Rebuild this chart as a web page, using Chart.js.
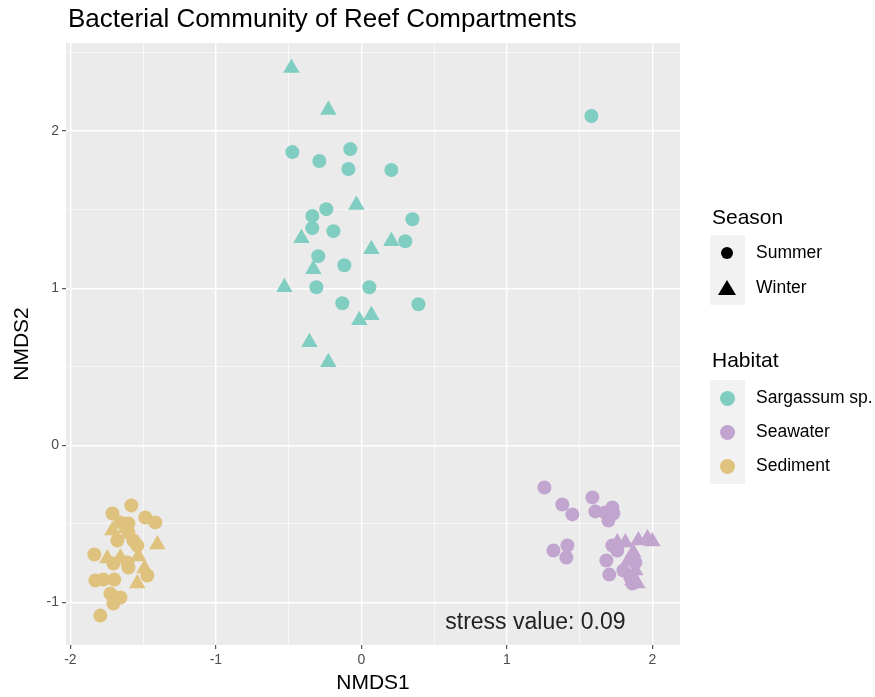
<!DOCTYPE html>
<html>
<head>
<meta charset="utf-8">
<script src="https://cdn.jsdelivr.net/npm/chart.js@4"></script>
<style>
  body { margin: 0; background: #fff; }
  #wrap { position: relative; width: 875px; height: 697px; font-family: "Liberation Sans", Arial, sans-serif; }
  #chart { position: absolute; left: 0; top: 0; }
  .txt { position: absolute; white-space: nowrap; line-height: 1; }
  .title { left: 68px; top: 5px; font-size: 26px; color: #000; }
  .legTitle { font-size: 21px; color: #000; }
  .legLabel { font-size: 17.5px; color: #000; }
  .keybox { position: absolute; background: #F2F2F2; }
  .dot { position: absolute; border-radius: 50%; }
</style>
</head>
<body>
<div id="wrap">
  <canvas id="chart" width="875" height="697"></canvas>
  <div class="txt title">Bacterial Community of Reef Compartments</div>

  <div class="txt legTitle" style="left:712px; top:206px;">Season</div>
  <div class="keybox" style="left:710px; top:235px; width:35px; height:70px;"></div>
  <div class="dot" style="left:721px; top:247px; width:12px; height:12px; background:#000;"></div>
  <svg style="position:absolute; left:717px; top:279px;" width="20" height="18"><polygon points="10,1 19,16 1,16" fill="#000"/></svg>
  <div class="txt legLabel" style="left:756px; top:244px;">Summer</div>
  <div class="txt legLabel" style="left:756px; top:279px;">Winter</div>

  <div class="txt legTitle" style="left:712px; top:349px;">Habitat</div>
  <div class="keybox" style="left:710px; top:380px; width:35px; height:104px;"></div>
  <div id="habitatKeys"></div>
</div>
<script>
// Data ==========================
const habitats = ["Sargassum sp.", "Seawater", "Sediment"];
const seasons = ["Summer", "Winter"];
const habitatColors = ["#80CDC1", "#C2A5CF", "#DFC27D"];

const sargSummerX = [-0.474, -0.289, -0.076, -0.089, 0.206, -0.241, -0.337, 0.351, -0.337, -0.192, 0.302, -0.296, -0.117, -0.309, 0.055, -0.131, 0.392, 1.581];
const sargSummerY = [1.866, 1.809, 1.885, 1.758, 1.752, 1.503, 1.459, 1.439, 1.382, 1.363, 1.299, 1.204, 1.146, 1.006, 1.006, 0.904, 0.898, 2.096];
const sargWinterX = [-0.481, -0.227, -0.034, -0.412, 0.206, 0.069, -0.330, -0.529, -0.014, 0.069, -0.357, -0.227];
const sargWinterY = [2.401, 2.134, 1.529, 1.318, 1.299, 1.248, 1.121, 1.006, 0.796, 0.828, 0.656, 0.529];

const seaSummerX = [1.258, 1.381, 1.450, 1.588, 1.608, 1.677, 1.725, 1.732, 1.698, 1.320, 1.416, 1.409, 1.684, 1.704, 1.801, 1.849, 1.759, 1.883, 1.863, 1.725];
const seaSummerY = [-0.268, -0.376, -0.439, -0.331, -0.420, -0.427, -0.395, -0.433, -0.478, -0.669, -0.637, -0.713, -0.732, -0.822, -0.796, -0.841, -0.669, -0.745, -0.879, -0.637];
const seaWinterX = [1.759, 1.814, 1.904, 1.966, 2.000, 1.869, 1.883, 1.863, 1.897, 1.835];
const seaWinterY = [-0.618, -0.618, -0.605, -0.592, -0.611, -0.682, -0.796, -0.860, -0.879, -0.732];

const sedSummerX = [-1.581, -1.711, -1.485, -1.416, -1.656, -1.601, -1.601, -1.677, -1.567, -1.540, -1.835, -1.608, -1.704, -1.601, -1.471, -1.828, -1.773, -1.698, -1.725, -1.656, -1.704, -1.794];
const sedSummerY = [-0.382, -0.433, -0.459, -0.490, -0.490, -0.497, -0.554, -0.605, -0.605, -0.637, -0.694, -0.745, -0.752, -0.777, -0.828, -0.860, -0.854, -0.854, -0.943, -0.968, -1.006, -1.083];
const sedWinterX = [-1.711, -1.622, -1.402, -1.746, -1.656, -1.533, -1.491, -1.540];
const sedWinterY = [-0.541, -0.529, -0.631, -0.720, -0.713, -0.707, -0.783, -0.879];

const xTicks = [-2, -1, 0, 1, 2];
const yTicks = [-1, 0, 1, 2];
const stressLabel = "stress value: 0.09";
const stressPos = { x: 1.196, y: -1.127 };

// Helpers ==========================
function toPoints(xs, ys) {
    return xs.map((x, i) => ({ x: x, y: ys[i] }));
}

function makeSet(label, xs, ys, color, season) {
    const tri = season === "Winter";
    return {
        label: label,
        data: toPoints(xs, ys),
        pointStyle: tri ? "triangle" : "circle",
        pointRadius: tri ? 9.5 : 7,
        backgroundColor: color,
        borderColor: color,
        borderWidth: 0
    };
}

function isMajor(v) {
    return Math.abs(v - Math.round(v)) < 1e-6;
}

// Legend keys for habitat
const keyWrap = document.getElementById("habitatKeys");
habitats.forEach((h, i) => {
    const cy = 398 + i * 34;
    const d = document.createElement("div");
    d.className = "dot";
    d.style.cssText = `left:720px; top:${cy - 7.5}px; width:15px; height:15px; background:${habitatColors[i]};`;
    keyWrap.appendChild(d);
    const t = document.createElement("div");
    t.className = "txt legLabel";
    t.style.cssText = `left:756px; top:${cy - 9}px;`;
    t.textContent = h;
    keyWrap.appendChild(t);
});

// Plugins ==========================
const panelBg = {
    id: "panelBg",
    beforeDraw(chart) {
        const { ctx, chartArea: a } = chart;
        ctx.save();
        ctx.fillStyle = "#EBEBEB";
        ctx.fillRect(a.left, a.top, a.right - a.left, a.bottom - a.top);
        ctx.restore();
    }
};

const stressText = {
    id: "stressText",
    afterDatasetsDraw(chart) {
        const { ctx, scales } = chart;
        ctx.save();
        ctx.font = '23px "Liberation Sans", Arial, sans-serif';
        ctx.fillStyle = "#222";
        ctx.textAlign = "center";
        ctx.textBaseline = "middle";
        ctx.fillText(stressLabel, scales.x.getPixelForValue(stressPos.x), scales.y.getPixelForValue(stressPos.y));
        ctx.restore();
    }
};

// Chart ==========================
const tickFont = { family: '"Liberation Sans", Arial, sans-serif', size: 14 };
const titleFont = { family: '"Liberation Sans", Arial, sans-serif', size: 21 };

function gridOpts() {
    return {
        color: "#FFFFFF",
        lineWidth: c => isMajor(c.tick.value) ? 1.4 : 0.6,
        drawTicks: true,
        tickLength: 4,
        tickColor: c => isMajor(c.tick.value) ? "#333333" : "rgba(0,0,0,0)",
        tickWidth: 1
    };
}

const ctx = document.getElementById("chart").getContext("2d");
const chart = new Chart(ctx, {
    type: "scatter",
    data: {
        datasets: [
            makeSet("Sargassum sp. Summer", sargSummerX, sargSummerY, habitatColors[0], "Summer"),
            makeSet("Sargassum sp. Winter", sargWinterX, sargWinterY, habitatColors[0], "Winter"),
            makeSet("Seawater Summer", seaSummerX, seaSummerY, habitatColors[1], "Summer"),
            makeSet("Seawater Winter", seaWinterX, seaWinterY, habitatColors[1], "Winter"),
            makeSet("Sediment Summer", sedSummerX, sedSummerY, habitatColors[2], "Summer"),
            makeSet("Sediment Winter", sedWinterX, sedWinterY, habitatColors[2], "Winter")
        ]
    },
    options: {
        responsive: false,
        animation: false,
        events: [],
        layout: { padding: { left: 0, top: 43, right: 195, bottom: 0 } },
        plugins: { legend: { display: false }, tooltip: { enabled: false } },
        scales: {
            x: {
                type: "linear",
                min: -2.03,
                max: 2.19,
                afterFit: s => { s.height = 52; },
                border: { display: false },
                grid: gridOpts(),
                ticks: {
                    stepSize: 0.5,
                    includeBounds: false,
                    autoSkip: false,
                    maxRotation: 0,
                    padding: 3,
                    color: "#4D4D4D",
                    font: tickFont,
                    callback: v => xTicks.includes(Math.round(v)) && isMajor(v) ? String(Math.round(v)) : ""
                },
                title: { display: true, text: "NMDS1", color: "#000", font: titleFont, padding: { top: 0, bottom: 1 } }
            },
            y: {
                type: "linear",
                min: -1.27,
                max: 2.56,
                afterFit: s => { s.width = 66; },
                border: { display: false },
                grid: gridOpts(),
                ticks: {
                    stepSize: 0.5,
                    includeBounds: false,
                    autoSkip: false,
                    padding: 3,
                    color: "#4D4D4D",
                    font: tickFont,
                    callback: v => yTicks.includes(Math.round(v)) && isMajor(v) ? String(Math.round(v)) : ""
                },
                title: { display: true, text: "NMDS2", color: "#000", font: titleFont, padding: { top: 10, bottom: 0 } }
            }
        }
    },
    plugins: [panelBg, stressText]
});
</script>
</body>
</html>
